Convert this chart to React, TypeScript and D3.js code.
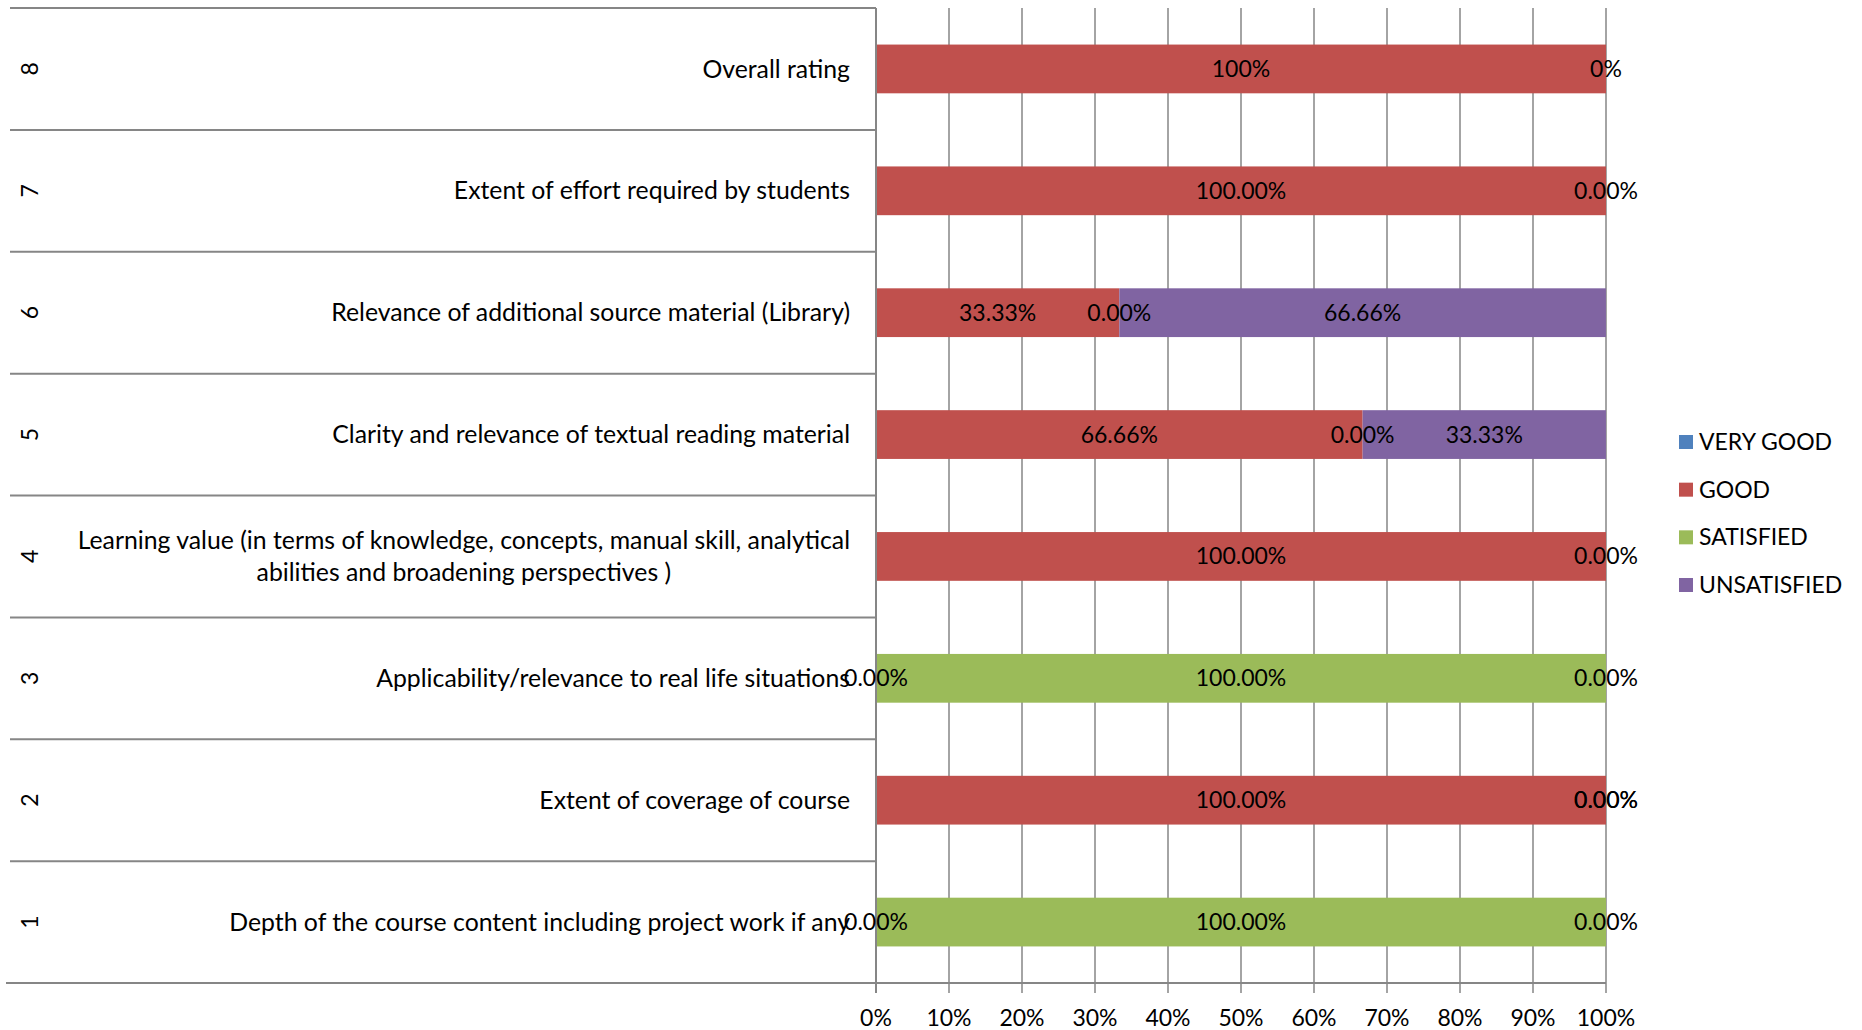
import React, { useEffect, useRef } from "react";
import * as d3 from "d3";

const groupNumbers = ["1", "2", "3", "4", "5", "6", "7", "8"];
const categories = [
  "Depth of the course content including project work if any",
  "Extent of coverage of course",
  "Applicability/relevance to real life situations",
  "Learning value (in terms of knowledge, concepts, manual skill, analytical\nabilities and broadening perspectives )",
  "Clarity and relevance of textual reading material",
  "Relevance of additional source material (Library)",
  "Extent of effort required by students",
  "Overall rating",
];
const seriesNames = ["VERY GOOD", "GOOD", "SATISFIED", "UNSATISFIED"];
const seriesColors = ["#4F81BD", "#C0504D", "#9BBB59", "#8064A2"];
const veryGood: (number | null)[] = [null, null, null, null, null, null, null, null];
const good: (number | null)[] = [0, 100, 0, 100, 66.66, 33.33, 100, 100];
const satisfied: (number | null)[] = [100, 0, 100, 0, 0, 0, 0, 0];
const unsatisfied: (number | null)[] = [0, 0, 0, null, 33.33, 66.66, null, null];
const labelDecimals = [2, 2, 2, 2, 2, 2, 2, 0];
const xTicks = [0, 10, 20, 30, 40, 50, 60, 70, 80, 90, 100];

const W = 1862;
const H = 1030;
const FONT = "Lato, 'Open Sans', sans-serif";

export default function App() {
  const ref = useRef<SVGSVGElement | null>(null);

  useEffect(() => {
    const svg = d3.select(ref.current);
    svg.selectAll("*").remove();

    const left = 876, right = 1606, top = 8, bottom = 983;
    const tableLeft = 10;
    const gridColor = "#868686";
    const fs = 23;
    const catFs = 24.8;

    const x = d3.scaleLinear().domain([0, 100]).range([left, right]);
    const y = d3
      .scaleBand<string>()
      .domain([...groupNumbers].reverse())
      .range([top, bottom])
      .paddingInner(0.6)
      .paddingOuter(0.3);
    const step = y.step();

    // vertical gridlines
    svg
      .append("g")
      .selectAll("line")
      .data(xTicks.slice(1))
      .join("line")
      .attr("x1", (d) => x(d))
      .attr("x2", (d) => x(d))
      .attr("y1", top)
      .attr("y2", bottom + 10)
      .attr("stroke", gridColor)
      .attr("stroke-width", 1.5);

    // row separators (category table lines)
    const sepYs = d3.range(groupNumbers.length + 1).map((i) => top + i * step);
    svg
      .append("g")
      .selectAll("line")
      .data(sepYs)
      .join("line")
      .attr("x1", tableLeft)
      .attr("x2", left)
      .attr("y1", (d) => d)
      .attr("y2", (d) => d)
      .attr("stroke", gridColor)
      .attr("stroke-width", 2);

    // bars
    const series = [veryGood, good, satisfied, unsatisfied];
    const segs: any[] = [];
    groupNumbers.forEach((g, i) => {
      let cum = 0;
      series.forEach((s, si) => {
        const v = s[i];
        if (v === null || v === undefined) return;
        segs.push({ g, i, si, x0: cum, x1: cum + v, v });
        cum += v;
      });
    });

    svg
      .append("g")
      .selectAll("rect")
      .data(segs.filter((d) => d.v > 0))
      .join("rect")
      .attr("x", (d) => x(d.x0))
      .attr("width", (d) => x(d.x1) - x(d.x0))
      .attr("y", (d) => y(d.g)!)
      .attr("height", y.bandwidth())
      .attr("fill", (d) => seriesColors[d.si]);

    // axes lines
    svg
      .append("line")
      .attr("x1", left)
      .attr("x2", left)
      .attr("y1", top)
      .attr("y2", bottom + 10)
      .attr("stroke", gridColor)
      .attr("stroke-width", 2);
    svg
      .append("line")
      .attr("x1", tableLeft - 4)
      .attr("x2", right)
      .attr("y1", bottom)
      .attr("y2", bottom)
      .attr("stroke", gridColor)
      .attr("stroke-width", 2);

    // data labels
    svg
      .append("g")
      .selectAll("text")
      .data(segs)
      .join("text")
      .attr("x", (d) => x((d.x0 + d.x1) / 2))
      .attr("y", (d) => y(d.g)! + y.bandwidth() / 2)
      .attr("dy", "0.35em")
      .attr("text-anchor", "middle")
      .attr("font-family", FONT)
      .attr("font-size", fs)
      .attr("fill", "#000")
      .text((d) => d.v.toFixed(labelDecimals[d.i]) + "%");

    // x tick labels
    svg
      .append("g")
      .selectAll("text")
      .data(xTicks)
      .join("text")
      .attr("x", (d) => x(d))
      .attr("y", 1018)
      .attr("dy", "0.35em")
      .attr("text-anchor", "middle")
      .attr("font-family", FONT)
      .attr("font-size", fs)
      .attr("fill", "#000")
      .text((d) => d + "%");

    // category labels
    const labelRight = 850;
    groupNumbers.forEach((g, i) => {
      const cy = y(g)! + y.bandwidth() / 2;
      const lines = categories[i].split("\n");
      const lh = 32;
      const gEl = svg.append("g");
      const texts = lines.map((ln, li) =>
        gEl
          .append("text")
          .attr("y", cy + (li - (lines.length - 1) / 2) * lh)
          .attr("dy", "0.35em")
          .attr("font-family", FONT)
          .attr("font-size", catFs)
          .attr("fill", "#000")
          .attr("text-anchor", "middle")
          .text(ln)
      );
      const widths = texts.map((t) => (t.node() as SVGTextElement).getComputedTextLength());
      const maxW = d3.max(widths) || 0;
      texts.forEach((t) => t.attr("x", labelRight - maxW / 2));

      // rotated group number
      svg
        .append("text")
        .attr("transform", `translate(30,${cy}) rotate(-90)`)
        .attr("dy", "0.35em")
        .attr("text-anchor", "middle")
        .attr("font-family", FONT)
        .attr("font-size", fs)
        .attr("fill", "#000")
        .text(g);
    });

    // legend
    const legY = d3.scalePoint<string>().domain(seriesNames).range([442, 585]);
    const leg = svg
      .append("g")
      .selectAll("g")
      .data(seriesNames)
      .join("g")
      .attr("transform", (d) => `translate(1679,${legY(d)})`);
    leg
      .append("rect")
      .attr("x", 0)
      .attr("y", -7)
      .attr("width", 14)
      .attr("height", 14)
      .attr("fill", (d, i) => seriesColors[i]);
    leg
      .append("text")
      .attr("x", 20)
      .attr("dy", "0.35em")
      .attr("font-family", FONT)
      .attr("font-size", fs)
      .attr("fill", "#000")
      .text((d) => d);
  }, []);

  return (
    <svg
      ref={ref}
      width={W}
      height={H}
      style={{ position: "absolute", left: 0, top: 0, background: "#fff" }}
    />
  );
}
